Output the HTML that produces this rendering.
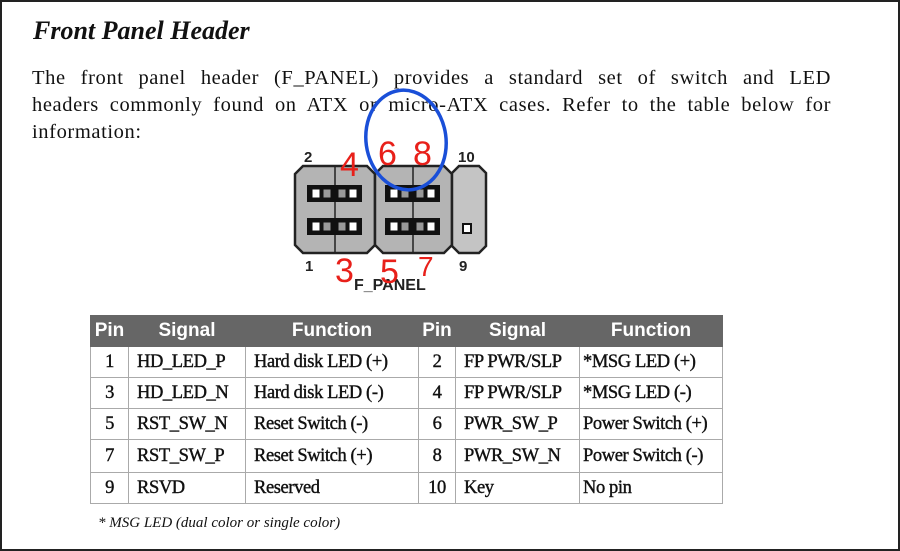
<!DOCTYPE html>
<html><head><meta charset="utf-8"><style>
html,body{margin:0;padding:0}
body{width:900px;height:551px;position:relative;overflow:hidden;background:#fff;font-family:"Liberation Serif",serif;color:#111}
.frame{position:absolute;left:0;top:0;width:896px;height:547px;border:2px solid #222}
h1{position:absolute;left:33px;top:16px;margin:0;font-size:26px;font-style:italic;font-weight:bold;white-space:nowrap}
.p{position:absolute;left:32px;width:799px;font-size:20.5px;letter-spacing:0.6px;white-space:nowrap;text-align:justify;text-align-last:justify}
table{position:absolute;left:90px;top:315px;border-collapse:collapse;font-size:18.5px;table-layout:fixed;width:632px}
td,th{border:1px solid #aaa;padding:0 0 0 8px;height:30px;text-align:left;white-space:nowrap;overflow:hidden;-webkit-text-stroke:0.4px #111;letter-spacing:-0.4px}
th{background:#666;color:#fff;font-family:"Liberation Sans",sans-serif;font-weight:bold;font-size:19px;height:30px;text-align:center;padding:0;border-color:#666;letter-spacing:0;-webkit-text-stroke:0}
td.n{text-align:center;padding:0}
.note{position:absolute;left:98px;top:515px;font-size:15px;font-style:italic}
</style></head><body>
<div class="frame"></div>
<h1>Front Panel Header</h1>
<div class="p" style="top:67px">The front panel header (F_PANEL) provides a standard set of switch and LED</div>
<div class="p" style="top:94px">headers commonly found on ATX or micro-ATX cases. Refer to the table below for</div>
<div class="p" style="top:121px;text-align-last:left;width:auto">information:</div>
<svg style="position:absolute;left:0;top:0" width="900" height="551">
<g font-family="Liberation Sans,sans-serif" font-weight="bold" font-size="15" fill="#222">
<text x="304" y="162">2</text><text x="458" y="162">10</text>
<text x="305" y="271">1</text><text x="459" y="271">9</text>
<text x="354" y="290" font-size="16">F_PANEL</text></g>
<g stroke="#222" stroke-width="2.5">
<polygon points="303,166 367,166 375,174 375,245 367,253 303,253 295,245 295,174" fill="#b4b4b4"/>
<polygon points="383,166 444,166 452,174 452,245 444,253 383,253 375,245 375,174" fill="#b4b4b4"/>
<polygon points="459,166 479,166 486,173 486,246 479,253 459,253 452,246 452,173" fill="#c4c4c4"/>
<line x1="335" y1="166" x2="335" y2="253" stroke-width="1.5"/>
<line x1="413" y1="166" x2="413" y2="253" stroke-width="1.5"/>
</g>
<g fill="#111">
<rect x="307" y="185" width="55" height="17"/><rect x="307" y="218" width="55" height="17"/>
<rect x="385" y="185" width="55" height="17"/><rect x="385" y="218" width="55" height="17"/>
</g>
<g fill="#fff" stroke="#111">
<rect x="312" y="189" width="8" height="9"/><rect x="323" y="189" width="8" height="9" fill="#999"/><rect x="338" y="189" width="8" height="9" fill="#999"/><rect x="349" y="189" width="8" height="9"/>
<rect x="312" y="222" width="8" height="9"/><rect x="323" y="222" width="8" height="9" fill="#999"/><rect x="338" y="222" width="8" height="9" fill="#999"/><rect x="349" y="222" width="8" height="9"/>
<rect x="390" y="189" width="8" height="9"/><rect x="401" y="189" width="8" height="9" fill="#999"/><rect x="416" y="189" width="8" height="9" fill="#999"/><rect x="427" y="189" width="8" height="9"/>
<rect x="390" y="222" width="8" height="9"/><rect x="401" y="222" width="8" height="9" fill="#999"/><rect x="416" y="222" width="8" height="9" fill="#999"/><rect x="427" y="222" width="8" height="9"/>
<rect x="463" y="224" width="8" height="9" stroke-width="2"/>
</g>
<g font-family="Liberation Sans,sans-serif" font-size="34" fill="#e8201a">
<text x="340" y="176">4</text><text x="378" y="165">6</text><text x="413" y="165">8</text>
<text x="335" y="282">3</text><text x="380" y="283">5</text><text x="418" y="276" font-size="28">7</text></g>
<ellipse cx="406" cy="140" rx="40" ry="50" fill="none" stroke="#1a4fd8" stroke-width="3.5" transform="rotate(-8 406 140)"/>
</svg>
<table>
<colgroup><col style="width:38px"><col style="width:117px"><col style="width:173px"><col style="width:37px"><col style="width:124px"><col style="width:143px"></colgroup>
<tr><th>Pin</th><th>Signal</th><th>Function</th><th>Pin</th><th>Signal</th><th>Function</th></tr>
<tr><td class="n">1</td><td>HD_LED_P</td><td>Hard disk LED (+)</td><td class="n">2</td><td>FP PWR/SLP</td><td style="padding-left:3px">*MSG LED (+)</td></tr>
<tr><td class="n">3</td><td>HD_LED_N</td><td>Hard disk LED (-)</td><td class="n">4</td><td>FP PWR/SLP</td><td style="padding-left:3px">*MSG LED (-)</td></tr>
<tr><td class="n">5</td><td>RST_SW_N</td><td>Reset Switch (-)</td><td class="n">6</td><td>PWR_SW_P</td><td style="padding-left:3px">Power Switch (+)</td></tr>
<tr><td class="n" style="height:32px">7</td><td>RST_SW_P</td><td>Reset Switch (+)</td><td class="n">8</td><td>PWR_SW_N</td><td style="padding-left:3px">Power Switch (-)</td></tr>
<tr><td class="n">9</td><td>RSVD</td><td>Reserved</td><td class="n">10</td><td>Key</td><td style="padding-left:3px">No pin</td></tr>
</table>
<div class="note">* MSG LED (dual color or single color)</div>
</body></html>
